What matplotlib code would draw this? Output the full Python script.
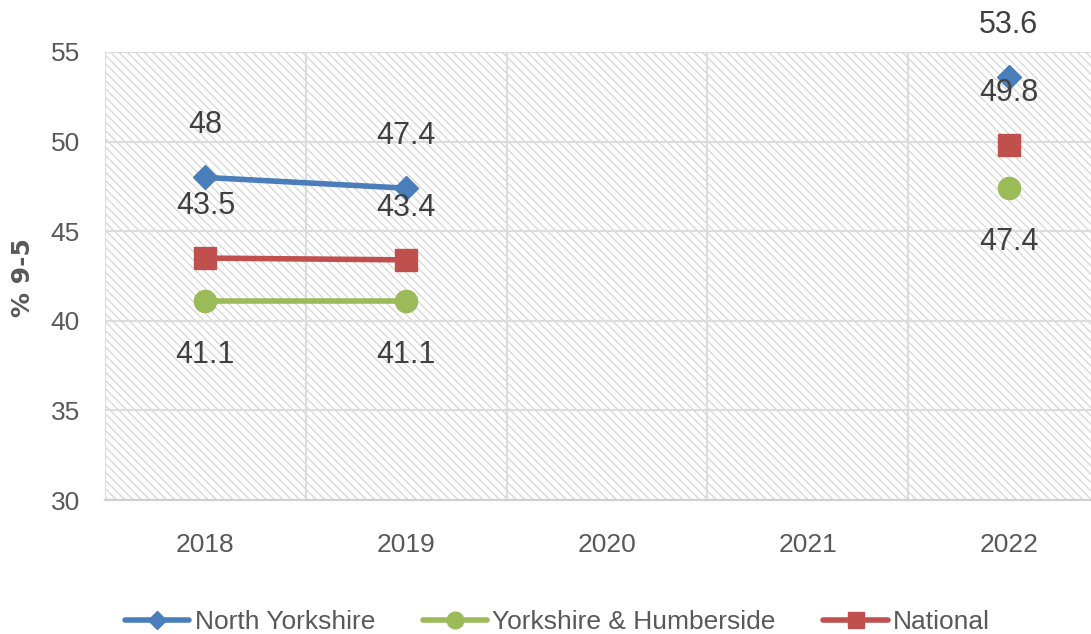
import matplotlib
matplotlib.use("Agg")
import matplotlib.pyplot as plt
from matplotlib.patches import Rectangle
import numpy as np

years = ["2018", "2019", "2020", "2021", "2022"]
north_yorkshire = [48.0, 47.4, None, None, 53.6]
yorks_humber = [41.1, 41.1, None, None, 47.4]
national = [43.5, 43.4, None, None, 49.8]
y_ticks = [30, 35, 40, 45, 50, 55]

plt.rcParams["font.family"] = ["Liberation Sans", "DejaVu Sans"]
plt.rcParams["hatch.linewidth"] = 0.85

fig = plt.figure(figsize=(10.91, 6.34), dpi=100)
ax = fig.add_axes([105 / 1091, 134 / 634, 1004 / 1091, 448 / 634])

x = np.arange(len(years))

def arr(v):
    return np.array([np.nan if a is None else a for a in v], dtype=float)

series = [
    ("North Yorkshire", arr(north_yorkshire), "#4a7ebb", "D", 12.5, "above"),
    ("Yorkshire & Humberside", arr(yorks_humber), "#9bbb59", "o", 16, "below"),
    ("National", arr(national), "#c0504d", "s", 16, "above"),
]

# background hatch
ax.add_patch(Rectangle((0, 0), 1, 1, transform=ax.transAxes, facecolor="white",
                       edgecolor="#d4d4d4", hatch="\\\\\\\\", lw=0, zorder=0))

for name, vals, col, mk, ms, pos in series:
    ax.plot(x, vals, color=col, lw=4, marker=mk, ms=ms, mec=col, mfc=col,
            label=name, zorder=3, solid_capstyle="round")
    for xi, v in zip(x, vals):
        if np.isnan(v):
            continue
        off = 37.5 if pos == "above" else -39
        txt = f"{v:g}"
        ax.annotate(txt, (xi, v), xytext=(0, off), textcoords="offset points",
                    ha="center", va="center", fontsize=22, color="#404040",
                    zorder=4, annotation_clip=False)

ax.set_xlim(-0.5, 4.5)
ax.set_ylim(30, 55)
ax.set_xticks(x)
ax.set_xticklabels(years)
ax.set_yticks(y_ticks)
ax.set_xticks(np.arange(-0.5, 5.0, 1.0), minor=True)
ax.tick_params(axis="both", which="both", length=0)
ax.tick_params(axis="x", which="major", pad=24, labelsize=19, labelcolor="#595959")
ax.tick_params(axis="y", which="major", pad=18, labelsize=19, labelcolor="#595959")

ax.set_axisbelow(True)
ax.grid(axis="y", which="major", color="#dcdcdc", lw=1.6)
ax.grid(axis="x", which="minor", color="#dcdcdc", lw=1.6)
ax.grid(axis="x", which="major", visible=False)

for s in ["top", "right", "left"]:
    ax.spines[s].set_visible(False)
ax.spines["bottom"].set_color("#d0d0d0")
ax.spines["bottom"].set_linewidth(1.6)

ax.set_ylabel("% 9-5", fontsize=18, fontweight="bold", color="#595959",
              family=["DejaVu Sans"])
ax.yaxis.set_label_coords(-0.0697, 0.4955)

handles, labels = ax.get_legend_handles_labels()
fig.legend(handles, labels, loc="center", bbox_to_anchor=(0.511, 0.019), ncol=3,
           frameon=False, fontsize=19, labelcolor="#595959", handlelength=2.45,
           handletextpad=0.2, columnspacing=1.8, markerscale=0.75,
           borderpad=0.1)

fig.savefig("out.png", dpi=100)
